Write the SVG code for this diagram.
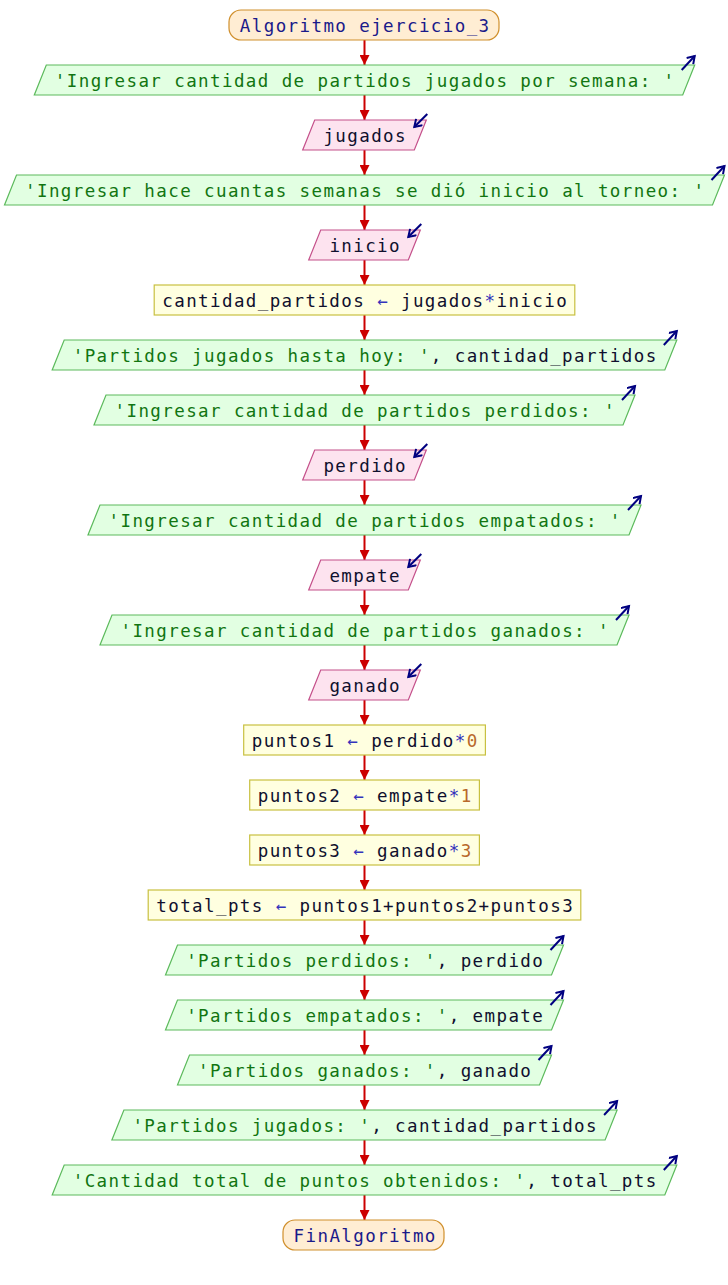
<svg xmlns="http://www.w3.org/2000/svg" width="728" height="1285" viewBox="0 0 728 1285">
<defs>
<marker id="ah" markerUnits="userSpaceOnUse" markerWidth="12" markerHeight="10" refX="10" refY="5" orient="auto">
<path d="M0,0 L10,5 L0,10 Z" fill="#cc0000"/>
</marker>
<marker id="io" markerUnits="userSpaceOnUse" markerWidth="12" markerHeight="12" refX="8" refY="5" orient="auto">
<path d="M1,0.5 L8,5 L1,9.5" fill="none" stroke="#000080" stroke-width="2"/>
</marker>
<style>
text{font-family:"DejaVu Sans Mono","Liberation Mono",monospace;font-size:17.5px;letter-spacing:1.4px;text-anchor:middle}
.term rect{fill:#ffedd3;stroke:#d08f2c;stroke-width:1.2}
.term text{fill:#1a1a8a}
.out polygon{fill:#e2ffe2;stroke:#5cba5c;stroke-width:1.2}
.in polygon{fill:#fde3ef;stroke:#c4508a;stroke-width:1.2}
.proc rect{fill:#ffffe0;stroke:#c8c040;stroke-width:1.2}
.s{fill:#117511}
.v{fill:#10102e}
.op{fill:#3333bb}
.n{fill:#b8692a}
.icon{stroke:#000080;stroke-width:2;fill:none;marker-end:url(#io)}
#connectors line{stroke:#cc0000;stroke-width:2;marker-end:url(#ah)}
</style>
</defs>
<rect width="728" height="1285" fill="#ffffff"/>

<g id="connectors">
<line x1="364.5" y1="40" x2="364.5" y2="65"/>
<line x1="364.5" y1="95" x2="364.5" y2="120"/>
<line x1="364.5" y1="150" x2="364.5" y2="175"/>
<line x1="364.5" y1="205" x2="364.5" y2="230"/>
<line x1="364.5" y1="260" x2="364.5" y2="285"/>
<line x1="364.5" y1="315" x2="364.5" y2="340"/>
<line x1="364.5" y1="370" x2="364.5" y2="395"/>
<line x1="364.5" y1="425" x2="364.5" y2="450"/>
<line x1="364.5" y1="480" x2="364.5" y2="505"/>
<line x1="364.5" y1="535" x2="364.5" y2="560"/>
<line x1="364.5" y1="590" x2="364.5" y2="615"/>
<line x1="364.5" y1="645" x2="364.5" y2="670"/>
<line x1="364.5" y1="700" x2="364.5" y2="725"/>
<line x1="364.5" y1="755" x2="364.5" y2="780"/>
<line x1="364.5" y1="810" x2="364.5" y2="835"/>
<line x1="364.5" y1="865" x2="364.5" y2="890"/>
<line x1="364.5" y1="920" x2="364.5" y2="945"/>
<line x1="364.5" y1="975" x2="364.5" y2="1000"/>
<line x1="364.5" y1="1030" x2="364.5" y2="1055"/>
<line x1="364.5" y1="1085" x2="364.5" y2="1110"/>
<line x1="364.5" y1="1140" x2="364.5" y2="1165"/>
<line x1="364.5" y1="1195" x2="364.5" y2="1220"/>
</g>

<g id="n1" class="term">
<rect x="229" y="10" width="270" height="30" rx="12"/>
<text x="365.2" y="31.5">Algoritmo ejercicio_3</text>
</g>

<g id="n2" class="out">
<polygon points="46.3,65 694.7,65 682.7,95 34.3,95"/>
<text x="365.2" y="86.5" class="s">'Ingresar cantidad de partidos jugados por semana: '</text>
<path class="icon" d="M681.7,70 L694.7,56"/>
</g>

<g id="n3" class="in">
<polygon points="314.7,120 426.3,120 414.3,150 302.7,150"/>
<text x="365.2" y="141.5" class="v">jugados</text>
<path class="icon" d="M427.3,114 L414.3,127"/>
</g>

<g id="n4" class="out">
<polygon points="16.5,175 724.5,175 712.5,205 4.5,205"/>
<text x="365.2" y="196.5" class="s">'Ingresar hace cuantas semanas se dió inicio al torneo: '</text>
<path class="icon" d="M711.5,180 L724.5,166"/>
</g>

<g id="n5" class="in">
<polygon points="320.7,230 420.3,230 408.3,260 308.7,260"/>
<text x="365.2" y="251.5" class="v">inicio</text>
<path class="icon" d="M421.3,224 L408.3,237"/>
</g>

<g id="n6" class="proc">
<rect x="154.2" y="285" width="420.6" height="30"/>
<text x="365.2" y="306.5" class="v">cantidad_partidos <tspan class="op">←</tspan> jugados<tspan class="op">*</tspan>inicio</text>
</g>

<g id="n7" class="out">
<polygon points="64.2,340 676.8,340 664.8,370 52.2,370"/>
<text x="365.2" y="361.5"><tspan class="s">'Partidos jugados hasta hoy: '</tspan><tspan class="v">, cantidad_partidos</tspan></text>
<path class="icon" d="M663.8,345 L676.8,331"/>
</g>

<g id="n8" class="out">
<polygon points="106,395 635,395 623,425 94,425"/>
<text x="365.2" y="416.5" class="s">'Ingresar cantidad de partidos perdidos: '</text>
<path class="icon" d="M622,400 L635,386"/>
</g>

<g id="n9" class="in">
<polygon points="314.7,450 426.3,450 414.3,480 302.7,480"/>
<text x="365.2" y="471.5" class="v">perdido</text>
<path class="icon" d="M427.3,444 L414.3,457"/>
</g>

<g id="n10" class="out">
<polygon points="100,505 641,505 629,535 88,535"/>
<text x="365.2" y="526.5" class="s">'Ingresar cantidad de partidos empatados: '</text>
<path class="icon" d="M628,510 L641,496"/>
</g>

<g id="n11" class="in">
<polygon points="320.7,560 420.3,560 408.3,590 308.7,590"/>
<text x="365.2" y="581.5" class="v">empate</text>
<path class="icon" d="M421.3,554 L408.3,567"/>
</g>

<g id="n12" class="out">
<polygon points="112,615 629,615 617,645 100,645"/>
<text x="365.2" y="636.5" class="s">'Ingresar cantidad de partidos ganados: '</text>
<path class="icon" d="M616,620 L629,606"/>
</g>

<g id="n13" class="in">
<polygon points="320.7,670 420.3,670 408.3,700 308.7,700"/>
<text x="365.2" y="691.5" class="v">ganado</text>
<path class="icon" d="M421.3,664 L408.3,677"/>
</g>

<g id="n14" class="proc">
<rect x="243.7" y="725" width="241.7" height="30"/>
<text x="365.2" y="746.5" class="v">puntos1 <tspan class="op">←</tspan> perdido<tspan class="op">*</tspan><tspan class="n">0</tspan></text>
</g>

<g id="n15" class="proc">
<rect x="249.7" y="780" width="229.7" height="30"/>
<text x="365.2" y="801.5" class="v">puntos2 <tspan class="op">←</tspan> empate<tspan class="op">*</tspan><tspan class="n">1</tspan></text>
</g>

<g id="n16" class="proc">
<rect x="249.7" y="835" width="229.7" height="30"/>
<text x="365.2" y="856.5" class="v">puntos3 <tspan class="op">←</tspan> ganado<tspan class="op">*</tspan><tspan class="n">3</tspan></text>
</g>

<g id="n17" class="proc">
<rect x="148.2" y="890" width="432.6" height="30"/>
<text x="365.2" y="911.5" class="v">total_pts <tspan class="op">←</tspan> puntos1+puntos2+puntos3</text>
</g>

<g id="n18" class="out">
<polygon points="177.5,945 563.5,945 551.5,975 165.5,975"/>
<text x="365.2" y="966.5"><tspan class="s">'Partidos perdidos: '</tspan><tspan class="v">, perdido</tspan></text>
<path class="icon" d="M550.5,950 L563.5,936"/>
</g>

<g id="n19" class="out">
<polygon points="177.5,1000 563.5,1000 551.5,1030 165.5,1030"/>
<text x="365.2" y="1021.5"><tspan class="s">'Partidos empatados: '</tspan><tspan class="v">, empate</tspan></text>
<path class="icon" d="M550.5,1005 L563.5,991"/>
</g>

<g id="n20" class="out">
<polygon points="189.5,1055 551.5,1055 539.5,1085 177.5,1085"/>
<text x="365.2" y="1076.5"><tspan class="s">'Partidos ganados: '</tspan><tspan class="v">, ganado</tspan></text>
<path class="icon" d="M538.5,1060 L551.5,1046"/>
</g>

<g id="n21" class="out">
<polygon points="123.9,1110 617.1,1110 605.1,1140 111.9,1140"/>
<text x="365.2" y="1131.5"><tspan class="s">'Partidos jugados: '</tspan><tspan class="v">, cantidad_partidos</tspan></text>
<path class="icon" d="M604.1,1115 L617.1,1101"/>
</g>

<g id="n22" class="out">
<polygon points="64.2,1165 676.8,1165 664.8,1195 52.2,1195"/>
<text x="365.2" y="1186.5"><tspan class="s">'Cantidad total de puntos obtenidos: '</tspan><tspan class="v">, total_pts</tspan></text>
<path class="icon" d="M663.8,1170 L676.8,1156"/>
</g>

<g id="n23" class="term">
<rect x="283" y="1220" width="161" height="30" rx="12"/>
<text x="365.2" y="1241.5">FinAlgoritmo</text>
</g>
</svg>
